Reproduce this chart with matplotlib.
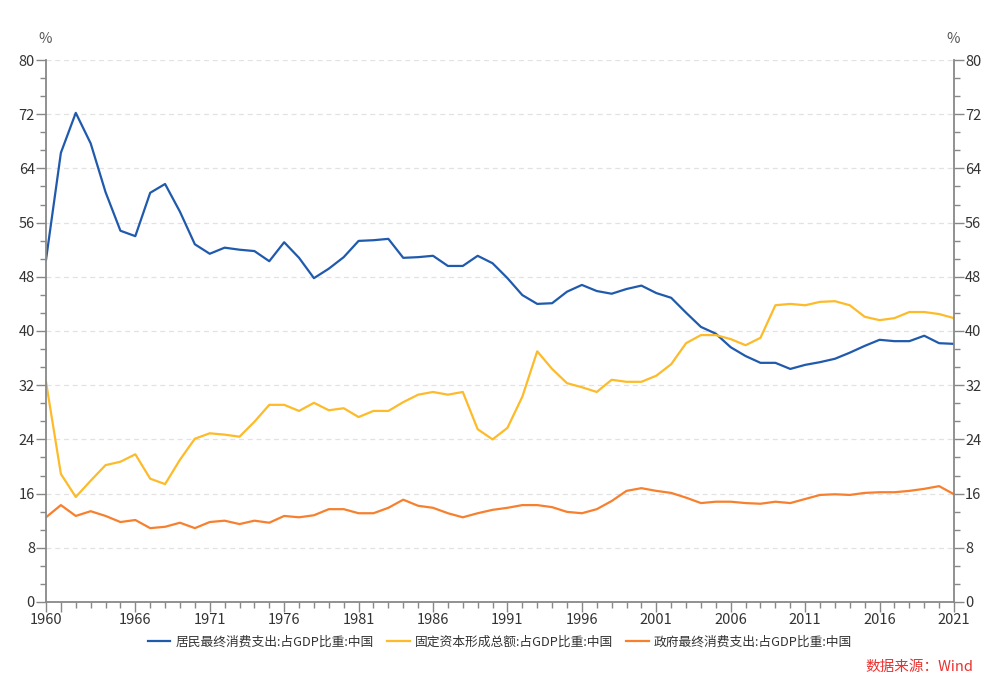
import numpy as np
import matplotlib
matplotlib.use("Agg")
import matplotlib.pyplot as plt
from matplotlib.ticker import MultipleLocator, FixedLocator

plt.rcParams['font.family'] = ['Noto Sans CJK SC', 'DejaVu Sans']

# 数据
years = list(range(1960, 2022))

jumin = [50.5, 66.3, 72.2, 67.7, 60.5, 54.8, 54.0, 60.4, 61.7, 57.6,
         52.8, 51.4, 52.3, 52.0, 51.8, 50.3, 53.1, 50.8, 47.8, 49.2,
         50.9, 53.3, 53.4, 53.6, 50.8, 50.9, 51.1, 49.6, 49.6, 51.1,
         50.0, 47.8, 45.3, 44.0, 44.1, 45.8, 46.8, 45.9, 45.5, 46.2,
         46.7, 45.6, 44.9, 42.7, 40.6, 39.6, 37.6, 36.3, 35.3, 35.3,
         34.4, 35.0, 35.4, 35.9, 36.8, 37.8, 38.7, 38.5, 38.5, 39.3,
         38.2, 38.1]

guding = [32.5, 18.9, 15.5, 17.9, 20.2, 20.7, 21.8, 18.2, 17.4, 21.0,
          24.1, 24.9, 24.7, 24.4, 26.6, 29.1, 29.1, 28.2, 29.4, 28.3,
          28.6, 27.3, 28.2, 28.2, 29.5, 30.6, 31.0, 30.6, 31.0, 25.5,
          24.0, 25.7, 30.3, 37.0, 34.4, 32.3, 31.7, 31.0, 32.8, 32.5,
          32.5, 33.4, 35.1, 38.2, 39.4, 39.4, 38.8, 37.9, 39.0, 43.8,
          44.0, 43.8, 44.3, 44.4, 43.8, 42.1, 41.6, 41.9, 42.8, 42.8,
          42.5, 41.9]

zhengfu = [12.5, 14.3, 12.7, 13.4, 12.7, 11.8, 12.1, 10.9, 11.1, 11.7,
           10.9, 11.8, 12.0, 11.5, 12.0, 11.7, 12.7, 12.5, 12.8, 13.7,
           13.7, 13.1, 13.1, 13.9, 15.1, 14.2, 13.9, 13.1, 12.5, 13.1,
           13.6, 13.9, 14.3, 14.3, 14.0, 13.3, 13.1, 13.7, 14.9, 16.4,
           16.8, 16.4, 16.1, 15.4, 14.6, 14.8, 14.8, 14.6, 14.5, 14.8,
           14.6, 15.2, 15.8, 15.9, 15.8, 16.1, 16.2, 16.2, 16.4, 16.7,
           17.1, 15.9]

labels = ["居民最终消费支出:占GDP比重:中国",
          "固定资本形成总额:占GDP比重:中国",
          "政府最终消费支出:占GDP比重:中国"]
colors = ["#1f5aad", "#fdbb2a", "#f7802e"]

xtick_pos = [1960, 1961] + list(range(1966, 2022, 5))
xtick_lab = ["1960", ""] + [str(y) for y in range(1966, 2022, 5)]

fig = plt.figure(figsize=(10, 6.89), dpi=100)
ax = fig.add_axes([0.046, 0.1263, 0.908, 0.7866])

for s, lab, c in zip([jumin, guding, zhengfu], labels, colors):
    ax.plot(years, s, color=c, lw=1.6, label=lab)

ax.set_xlim(1960, 2021)
ax.set_ylim(0, 80)

grey = "#888888"
txt = "#333333"

ax.yaxis.set_major_locator(MultipleLocator(8))
ax.yaxis.set_minor_locator(MultipleLocator(8 / 3))
ax.xaxis.set_major_locator(FixedLocator(xtick_pos))
ax.set_xticklabels(xtick_lab)
ax.xaxis.set_minor_locator(MultipleLocator(1))

ax.grid(axis='y', which='major', color="#e2e2e2", ls=(0, (4, 3)), lw=0.9)
ax.set_axisbelow(True)

for side in ['left', 'right', 'bottom']:
    ax.spines[side].set_color(grey)
    ax.spines[side].set_linewidth(1.3)
ax.spines['top'].set_visible(False)

ax.tick_params(axis='both', which='major', length=7, width=1, color=grey,
               labelsize=10.5, labelcolor=txt, pad=1)
ax.tick_params(axis='both', which='minor', length=4, width=1, color=grey)
ax.tick_params(axis='y', which='both', left=True, right=True,
               labelleft=True, labelright=True)

fig.text(0.045, 0.944, "%", ha='center', va='center', fontsize=10.5, color="#555555")
fig.text(0.953, 0.944, "%", ha='center', va='center', fontsize=10.5, color="#555555")

fig.legend(loc='center', bbox_to_anchor=(0.5, 0.068), ncol=3, frameon=False,
           fontsize=9.2, labelcolor=txt, handlelength=1.75, columnspacing=1.05,
           handletextpad=0.4)

fig.text(0.973, 0.032, "数据来源：Wind", ha='right', va='center',
         fontsize=10.5, color="#e8322f")

fig.savefig("out.png", dpi=100)
